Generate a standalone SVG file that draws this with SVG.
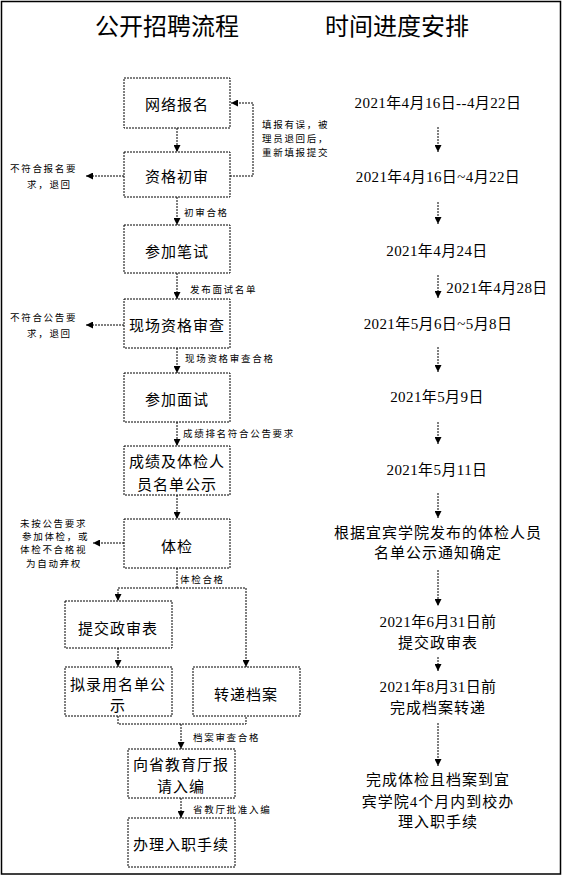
<svg xmlns="http://www.w3.org/2000/svg" width="563" height="876" viewBox="0 0 563 876">
<defs>
<marker id="ah" viewBox="0 0 10 10" refX="10" refY="5" markerWidth="7" markerHeight="7" markerUnits="userSpaceOnUse" orient="auto">
<path d="M0,0 L10,5 L0,10 z" fill="#000"/>
</marker>
<style>
.box{fill:#fff;stroke:#000;stroke-width:1;stroke-dasharray:2 1}
.nt{font-family:"Noto Sans CJK SC","Noto Sans",sans-serif;font-size:15px;fill:#000;text-anchor:middle;dominant-baseline:central;letter-spacing:1px}
.sm{font-family:"Noto Sans CJK SC","Noto Sans",sans-serif;font-size:9.5px;fill:#000;dominant-baseline:central;letter-spacing:1.7px}
.tt{font-family:"Noto Sans CJK SC","Noto Sans",sans-serif;font-size:24px;fill:#000;text-anchor:middle;dominant-baseline:central}
.rt{font-family:"Liberation Serif","Noto Sans CJK SC",serif;font-size:15px;fill:#000;text-anchor:middle;dominant-baseline:central;letter-spacing:0.4px}
.rc{font-family:"Liberation Serif","Noto Sans CJK SC",serif;font-size:15px;fill:#000;text-anchor:middle;dominant-baseline:central;letter-spacing:1px}
.ln{fill:none;stroke:#000;stroke-width:1;stroke-dasharray:2 1}
.ar{fill:none;stroke:#000;stroke-width:1;stroke-dasharray:2 1;marker-end:url(#ah)}
</style>
</defs>
<rect x="1.5" y="1.5" width="559" height="872.5" fill="#fff" stroke="#000" stroke-width="1.5"/>
<text class="tt" x="167" y="24">公开招聘流程</text>
<text class="tt" x="397" y="24">时间进度安排</text>

<g id="connectors">
<path class="ar" d="M177,128 V152"/>
<path class="ar" d="M230,176 H253 V103 H231"/>
<path class="ar" d="M124,176 H86"/>
<path class="ar" d="M177,197 V225"/>
<path class="ar" d="M177,273 V299"/>
<path class="ar" d="M124,325 H86"/>
<path class="ar" d="M177,348 V373"/>
<path class="ar" d="M177,422 V446"/>
<path class="ar" d="M177,495 V519"/>
<path class="ar" d="M124,543 H93"/>
<path class="ln" d="M177,568 V588"/>
<path class="ar" d="M177,588 H118 V601"/>
<path class="ar" d="M177,588 H246 V667"/>
<path class="ar" d="M118,648 V667"/>
<path class="ln" d="M118,716 V724 H246 V716"/>
<path class="ar" d="M181,724 V749"/>
<path class="ar" d="M181,798 V818"/>
<path class="ar" d="M438,127 V152"/>
<path class="ar" d="M438,202 V224"/>
<path class="ar" d="M438,275 V298"/>
<path class="ar" d="M438,347 V372"/>
<path class="ar" d="M438,422 V444"/>
<path class="ar" d="M438,493 V518"/>
<path class="ar" d="M438,570 V606"/>
<path class="ar" d="M438,657 V671"/>
<path class="ar" d="M438,723 V766"/>
<text class="sm" x="184" y="212">初审合格</text>
<text class="sm" x="190" y="289">发布面试名单</text>
<text class="sm" x="185" y="358">现场资格审查合格</text>
<text class="sm" x="183" y="433">成绩排名符合公告要求</text>
<text class="sm" x="180" y="579">体检合格</text>
<text class="sm" x="193" y="737">档案审查合格</text>
<text class="sm" x="193" y="809">省教厅批准入编</text>
<text class="sm" x="262" y="124">填报有误，被</text>
<text class="sm" x="262" y="138">理员退回后，</text>
<text class="sm" x="262" y="152">重新填报提交</text>
<text class="sm" x="10" y="168">不符合报名要</text>
<text class="sm" x="27" y="184">求，退回</text>
<text class="sm" x="10" y="317">不符合公告要</text>
<text class="sm" x="27" y="333">求，退回</text>
<text class="sm" x="20" y="523">未按公告要求</text>
<text class="sm" x="22" y="536">参加体检，或</text>
<text class="sm" x="20" y="549">体检不合格视</text>
<text class="sm" x="26" y="563">为自动弃权</text>
</g>

<g id="n1"><rect class="box" x="124" y="78" width="106" height="50"/><text class="nt" x="177" y="103">网络报名</text></g>
<g id="n2"><rect class="box" x="124" y="152" width="106" height="45"/><text class="nt" x="177" y="175">资格初审</text></g>
<g id="n3"><rect class="box" x="124" y="225" width="106" height="48"/><text class="nt" x="177" y="250">参加笔试</text></g>
<g id="n4"><rect class="box" x="124" y="299" width="106" height="49"/><text class="nt" x="177" y="324">现场资格审查</text></g>
<g id="n5"><rect class="box" x="124" y="373" width="106" height="49"/><text class="nt" x="177" y="398">参加面试</text></g>
<g id="n6"><rect class="box" x="124" y="446" width="106" height="49"/><text class="nt" x="177" y="460">成绩及体检人</text><text class="nt" x="177" y="483">员名单公示</text></g>
<g id="n7"><rect class="box" x="124" y="519" width="106" height="49"/><text class="nt" x="177" y="545">体检</text></g>
<g id="n8"><rect class="box" x="65" y="601" width="107" height="47"/><text class="nt" x="118" y="627">提交政审表</text></g>
<g id="n9"><rect class="box" x="65" y="667" width="107" height="49"/><text class="nt" x="118" y="683">拟录用名单公</text><text class="nt" x="118" y="704">示</text></g>
<g id="n10"><rect class="box" x="193" y="667" width="107" height="49"/><text class="nt" x="246" y="693">转递档案</text></g>
<g id="n11"><rect class="box" x="128" y="749" width="107" height="49"/><text class="nt" x="181" y="763">向省教育厅报</text><text class="nt" x="181" y="785">请入编</text></g>
<g id="n12"><rect class="box" x="128" y="818" width="107" height="49"/><text class="nt" x="181" y="843">办理入职手续</text></g>

<g id="timeline">
<text class="rt" x="438" y="103">2021年4月16日--4月22日</text>
<text class="rt" x="438" y="177">2021年4月16日~4月22日</text>
<text class="rt" x="437" y="251">2021年4月24日</text>
<text class="rt" x="497" y="288">2021年4月28日</text>
<text class="rt" x="438" y="324">2021年5月6日~5月8日</text>
<text class="rt" x="437" y="397">2021年5月9日</text>
<text class="rt" x="437" y="470">2021年5月11日</text>
<text class="rc" x="438" y="533">根据宜宾学院发布的体检人员</text>
<text class="rc" x="438" y="553">名单公示通知确定</text>
<text class="rt" x="438" y="622">2021年6月31日前</text>
<text class="rc" x="438" y="643">提交政审表</text>
<text class="rt" x="438" y="687">2021年8月31日前</text>
<text class="rc" x="438" y="708">完成档案转递</text>
<text class="rc" x="438" y="780">完成体检且档案到宜</text>
<text class="rc" x="438" y="802">宾学院4个月内到校办</text>
<text class="rc" x="438" y="822">理入职手续</text>
</g>
</svg>
